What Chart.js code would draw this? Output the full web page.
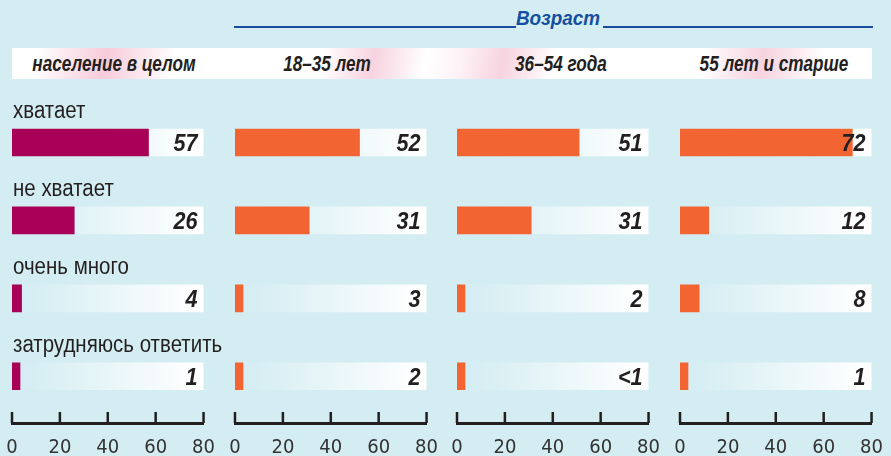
<!DOCTYPE html>
<html>
<head>
<meta charset="utf-8">
<script src="https://cdn.jsdelivr.net/npm/chart.js@4.4.1/dist/chart.umd.min.js"></script>
<style>
  html, body { margin: 0; padding: 0; }
  body {
    width: 891px; height: 456px; overflow: hidden; position: relative;
    background: #d4edf2; color: #231f20;
    font-family: 'Liberation Sans', Arial, sans-serif;
  }
  .age { position: absolute; left: 234px; top: 6px; width: 639px; height: 24px; }
  .age .line { position: absolute; top: 20px; height: 2px; background: #1a4b9c; }
  .age .title {
    position: absolute; left: 274px; top: 0; width: 100px; text-align: center;
    font-size: 21px; font-weight: bold; font-style: italic; color: #1550a0; line-height: 24px;
    transform: scaleX(0.9);
  }
  .head {
    position: absolute; left: 12px; top: 48px; width: 860px; height: 31px;
    background: linear-gradient(100deg, #fff 3%, #f7cbd9 11%, #fff 19%, #fff 36%,
      #f7d3df 42%, #fff 48%, #fdf3f6 52%, #f7d3df 57%, #fff 63%, #fff 80%, #f7d3df 87%, #fff 94%);
  }
  .head span {
    position: absolute; top: 0; width: 260px; margin-left: -130px; text-align: center; line-height: 31px;
    font-size: 22px; font-weight: bold; font-style: italic; color: #231f20;
    transform: scaleX(0.78);
  }
  canvas { position: absolute; top: 90px; }
</style>
</head>
<body>
<div class="age">
  <div class="line" style="left:0; width:282px"></div>
  <div class="title">Возраст</div>
  <div class="line" style="left:369px; width:270px"></div>
</div>
<div class="head" id="head"></div>
<canvas id="c0" width="240" height="385"></canvas>
<canvas id="c1" width="240" height="385"></canvas>
<canvas id="c2" width="240" height="385"></canvas>
<canvas id="c3" width="240" height="385"></canvas>
<script>
const FONT = "'Liberation Sans', Arial, sans-serif";
const TICK_FONT = "'DejaVu Sans Condensed', 'Liberation Sans', sans-serif";

// data
const categories = ['хватает', 'не хватает', 'очень много', 'затрудняюсь ответить'];
const panelTitles = ['население в целом', '18–35 лет', '36–54 года', '55 лет и старше'];
const totalValues = [57, 26, 4, 1];
const age18to35 = [52, 31, 3, 2];
const age36to54 = [51, 31, 2, 0.5];
const age55plus = [72, 12, 8, 1];
const totalLabels = ['57', '26', '4', '1'];
const age18to35Labels = ['52', '31', '3', '2'];
const age36to54Labels = ['51', '31', '2', '<1'];
const age55plusLabels = ['72', '12', '8', '1'];
const AXIS_MAX = 80;
const AXIS_STEP = 20;

const panels = [
    { values: totalValues, labels: totalLabels, color: '#a80056' },
    { values: age18to35, labels: age18to35Labels, color: '#f26532' },
    { values: age36to54, labels: age36to54Labels, color: '#f26532' },
    { values: age55plus, labels: age55plusLabels, color: '#f26532' },
];
const panelLefts = [12, 235, 457, 680];
const titleCenters = [114, 327, 561, 774];
const PAD_LEFT = 22;

// header strip
const head = document.getElementById('head');
panelTitles.forEach((t, i) => {
    const s = document.createElement('span');
    s.textContent = t;
    s.style.left = (titleCenters[i] - 12) + 'px';
    head.appendChild(s);
});

// draw text squeezed horizontally (condensed look)
function condensedText(ctx, text, x, y, font, sx, align) {
    ctx.save();
    ctx.translate(x, y);
    ctx.scale(sx, 1);
    ctx.font = font;
    ctx.textAlign = align;
    ctx.textBaseline = 'alphabetic';
    ctx.fillText(text, 0, 0);
    ctx.restore();
}

// category names above the bars (first panel only)
const rowLabelsPlugin = {
    id: 'rowLabels',
    afterDatasetsDraw(chart, args, opts) {
        if (!opts.show) return;
        const ctx = chart.ctx;
        const meta = chart.getDatasetMeta(0);
        ctx.fillStyle = '#231f20';
        meta.data.forEach((bar, i) => {
            condensedText(ctx, categories[i], chart.chartArea.left + 1, bar.y - bar.height / 2 - 11,
                '23px ' + FONT, 0.89, 'left');
        });
    }
};

// numbers at the right end of the tracks
const valueLabelsPlugin = {
    id: 'valueLabels',
    afterDatasetsDraw(chart, args, opts) {
        const ctx = chart.ctx;
        const meta = chart.getDatasetMeta(0);
        ctx.fillStyle = '#231f20';
        meta.data.forEach((bar, i) => {
            condensedText(ctx, opts.labels[i], chart.chartArea.right - 6, bar.y + 8.5,
                'italic bold 24px ' + FONT, 0.9, 'right');
        });
    }
};

// tick marks pointing up from the axis line
const upTicksPlugin = {
    id: 'upTicks',
    afterDraw(chart) {
        const ctx = chart.ctx;
        const x = chart.scales.x;
        const bottom = chart.chartArea.bottom;
        ctx.save();
        ctx.strokeStyle = '#231f20';
        ctx.lineWidth = 2.5;
        ctx.beginPath();
        x.ticks.forEach(t => {
            const px = x.getPixelForValue(t.value);
            ctx.moveTo(px, bottom);
            ctx.lineTo(px, bottom - 11);
        });
        ctx.stroke();
        ctx.restore();
    }
};

function trackGradient(context) {
    const chart = context.chart;
    const area = chart.chartArea;
    if (!area) return '#ffffff';
    const g = chart.ctx.createLinearGradient(area.left, 0, area.right, 0);
    g.addColorStop(0, '#d4edf2');
    g.addColorStop(0.12, '#d6eef3');
    g.addColorStop(0.97, '#ffffff');
    g.addColorStop(1, '#ffffff');
    return g;
}

panels.forEach((p, i) => {
    const canvas = document.getElementById('c' + i);
    canvas.style.left = (panelLefts[i] - PAD_LEFT) + 'px';
    new Chart(canvas.getContext('2d'), {
        type: 'bar',
        data: {
            datasets: [
                {
                    data: p.values.map((v, k) => ({ x: v, y: k })),
                    backgroundColor: p.color,
                    barThickness: 27,
                    minBarLength: 8,
                    grouped: false,
                    order: 0,
                },
                {
                    data: categories.map((c, k) => ({ x: AXIS_MAX, y: k })),
                    backgroundColor: trackGradient,
                    barThickness: 27,
                    grouped: false,
                    order: 1,
                },
            ],
        },
        plugins: [rowLabelsPlugin, valueLabelsPlugin, upTicksPlugin],
        options: {
            indexAxis: 'y',
            responsive: false,
            animation: false,
            layout: { padding: { left: PAD_LEFT, right: 26, top: 13.5, bottom: 2 } },
            scales: {
                y: { type: 'linear', display: false, reverse: true, offset: false, min: -0.5, max: 3.6 },
                x: {
                    min: 0, max: AXIS_MAX,
                    grid: { display: false, drawTicks: false },
                    border: { display: true, color: '#231f20', width: 3 },
                    ticks: {
                        stepSize: AXIS_STEP, padding: 15, color: '#333',
                        font: { family: TICK_FONT, size: 20, lineHeight: 1 },
                    },
                },
            },
            plugins: {
                legend: { display: false },
                tooltip: { enabled: false },
                rowLabels: { show: i === 0 },
                valueLabels: { labels: p.labels },
            },
        },
    });
});
</script>
</body>
</html>
